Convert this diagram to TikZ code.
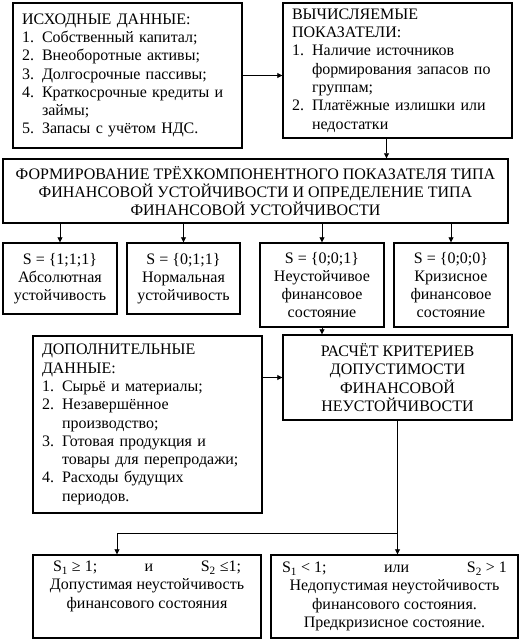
\documentclass[tikz,border=0pt]{standalone}
\usepackage{fontspec}
\setmainfont{Liberation Serif}
\usetikzlibrary{arrows.meta,calc}
\newcommand{\voce}[1]{\makebox[20pt][l]{#1}}
\newcommand{\segue}{\hspace*{20pt}}

\begin{document}
\begin{tikzpicture}[x=1pt,y=-1pt,
    % Stile comune dei blocchi
    blocco/.style={
        draw,
        rectangle,
        line width=1.4pt,
        inner xsep=9pt,
        inner ysep=0pt,
        font=\fontsize{16}{18.3}\selectfont
    },
    % Blocchi con elenco numerato
    elenco/.style={blocco, align=left, text width=#1},
    % Blocchi con testo centrato
    centro/.style={blocco, align=center},
    % Frecce con punta piena
    freccia/.style={
        -{Triangle[length=5pt, width=5pt]},
        line width=0.8pt
    }
]

% Margini dell'immagine
\fill[white] (0,0) rectangle (527,644);
\useasboundingbox (0,0) rectangle (527,644);

% 1. Dati iniziali e indicatori calcolati
\node [elenco=211pt, minimum height=145pt] (dati) at (127.5,75.5) {%
    ИСХОДНЫЕ ДАННЫЕ:\\
    \voce{1.}Собственный капитал;\\
    \voce{2.}Внеоборотные активы;\\
    \voce{3.}Долгосрочные пассивы;\\
    \voce{4.}Краткосрочные кредиты и\\
    \segue займы;\\
    \voce{5.}Запасы с учётом НДС.};
\node [elenco=211pt, minimum height=135pt] (indicatori) at (397.5,70.5) {%
    ВЫЧИСЛЯЕМЫЕ\\
    ПОКАЗАТЕЛИ:\\
    \voce{1.}Наличие источников\\
    \segue формирования запасов по\\
    \segue группам;\\
    \voce{2.}Платёжные излишки или\\
    \segue недостатки};

% 2. Blocco centrale
\node [centro, minimum width=505pt, minimum height=64pt] (formazione) at (255.5,191) {%
    ФОРМИРОВАНИЕ ТРЁХКОМПОНЕНТНОГО ПОКАЗАТЕЛЯ ТИПА\\
    ФИНАНСОВОЙ УСТОЙЧИВОСТИ И ОПРЕДЕЛЕНИЕ ТИПА\\
    ФИНАНСОВОЙ УСТОЙЧИВОСТИ};

% 3. Tipi di stabilita
\node [centro, minimum width=114pt, minimum height=71pt] (assoluta) at (60,278.5)
    {S = \{1;1;1\}\\ Абсолютная\\ устойчивость};
\node [centro, minimum width=113pt, minimum height=71pt] (normale) at (183.5,278.5)
    {S = \{0;1;1\}\\ Нормальная\\ устойчивость};
\node [centro, minimum width=124pt, minimum height=84pt] (instabile) at (322,285)
    {S = \{0;0;1\}\\ Неустойчивое\\ финансовое\\ состояние};
\node [centro, minimum width=114pt, minimum height=84pt] (crisi) at (451,285)
    {S = \{0;0;0\}\\ Кризисное\\ финансовое\\ состояние};

% 4. Dati aggiuntivi e calcolo dei criteri
\node [elenco=211pt, minimum height=177pt] (aggiuntivi) at (147.5,424.5) {%
    ДОПОЛНИТЕЛЬНЫЕ\\
    ДАННЫЕ:\\
    \voce{1.}Сырьё и материалы;\\
    \voce{2.}Незавершённое\\
    \segue производство;\\
    \voce{3.}Готовая продукция и\\
    \segue товары для перепродажи;\\
    \voce{4.}Расходы будущих\\
    \segue периодов.};
\node [centro, minimum width=229pt, minimum height=85pt] (calcolo) at (397.5,377.5) {%
    РАСЧЁТ КРИТЕРИЕВ\\
    ДОПУСТИМОСТИ\\
    ФИНАНСОВОЙ\\
    НЕУСТОЙЧИВОСТИ};

% 5. Esiti finali
\node [centro, minimum width=228pt, minimum height=83pt] (ammissibile) at (147,596.5) {%
    \makebox[188pt]{S\textsubscript{1} ≥ 1;\hfill и\hfill S\textsubscript{2} ≤1;}\\
    Допустимая неустойчивость\\
    финансового состояния\\
    \strut};
\node [centro, minimum width=247pt, minimum height=83pt] (inammissibile) at (394.5,596.5) {%
    \makebox[225pt]{S\textsubscript{1} < 1;\hfill или\hfill S\textsubscript{2} > 1}\\
    Недопустимая неустойчивость\\
    финансового состояния.\\
    Предкризисное состояние.};

% Frecce
\draw [freccia] (dati.east) -- (dati.east -| indicatori.west);
\draw [freccia] ([xshift=-11pt]indicatori.south) -- ([xshift=-11pt]indicatori.south |- formazione.north);
\foreach \tipo in {assoluta, normale, instabile, crisi}
    \draw [freccia] (\tipo.north |- formazione.south) -- (\tipo.north);
\draw [freccia] (instabile.south) -- (instabile.south |- calcolo.north);
\draw [freccia] (aggiuntivi.east |- calcolo.west) -- (calcolo.west);
\coordinate (snodo) at ($(calcolo.south)+(0,113)$);
\draw [freccia] (calcolo.south) -- (calcolo.south |- inammissibile.north);
\draw [freccia] (snodo) -| ([xshift=-30pt]ammissibile.north);

\end{tikzpicture}
\end{document}
